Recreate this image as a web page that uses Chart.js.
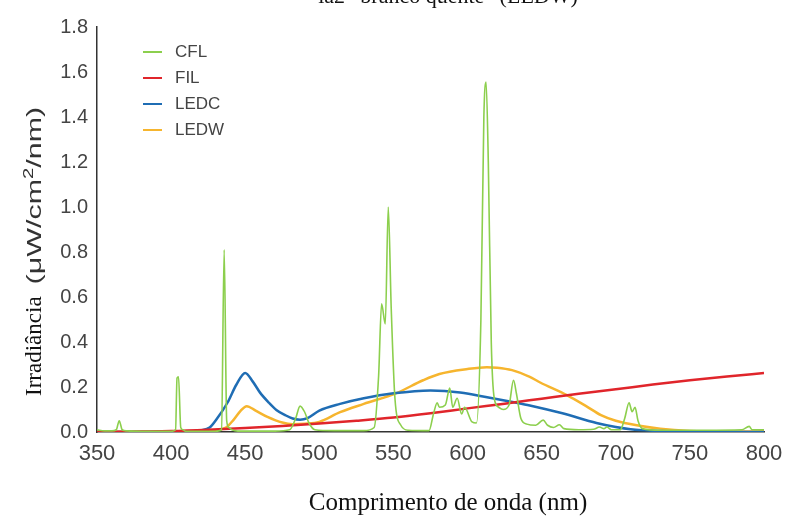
<!DOCTYPE html>
<html>
<head>
<meta charset="utf-8">
<script src="https://cdn.jsdelivr.net/npm/chart.js@4"></script>
<style>
  html, body { margin: 0; padding: 0; background: #fff; }
  #wrap { width: 786px; height: 520px; position: relative; }
</style>
</head>
<body>
<div id="wrap"><canvas id="spectra"></canvas></div>
<script>
// Spectral irradiance of the four lamps (nm / µW/cm²/nm)
const cflNm  = [350, 355, 360, 363, 365, 367, 370, 380, 400, 403, 404, 405, 406.5, 408, 410, 430, 434, 435.8, 437.5, 439, 441, 445, 470, 480, 484, 487, 490, 493, 497, 510, 530, 537, 540, 542, 544.5, 546.5, 548.5, 551, 555, 560, 574, 577, 579.5, 581, 585, 588, 590, 593, 596, 598, 603, 606, 609, 611, 612.5, 614, 616, 618, 621, 624, 628, 631, 633, 636, 640, 646, 651, 654, 658, 662, 665, 675, 685, 689, 692, 694, 697, 703, 706, 709, 711, 713, 715, 718, 730, 760, 785, 790, 792, 800];
const cflVal = [0.01, 0.005, 0.005, 0.01, 0.05, 0.01, 0.005, 0.003, 0.003, 0.01, 0.24, 0.245, 0.02, 0.01, 0.003, 0.003, 0.01, 0.81, 0.05, 0.02, 0.01, 0.004, 0.004, 0.01, 0.06, 0.115, 0.09, 0.04, 0.01, 0.006, 0.006, 0.02, 0.25, 0.57, 0.48, 1.0, 0.55, 0.15, 0.03, 0.008, 0.006, 0.08, 0.13, 0.11, 0.12, 0.195, 0.11, 0.15, 0.08, 0.11, 0.045, 0.04, 0.5, 1.4, 1.555, 1.2, 0.4, 0.15, 0.11, 0.1, 0.12, 0.23, 0.17, 0.06, 0.035, 0.03, 0.053, 0.03, 0.02, 0.032, 0.015, 0.01, 0.012, 0.022, 0.015, 0.022, 0.01, 0.01, 0.06, 0.13, 0.09, 0.11, 0.05, 0.015, 0.008, 0.008, 0.01, 0.025, 0.01, 0.01];

const filNm  = [350, 380, 400, 425, 450, 475, 500, 525, 550, 575, 600, 625, 650, 675, 700, 725, 750, 775, 800];
const filVal = [0.0, 0.002, 0.004, 0.01, 0.018, 0.027, 0.038, 0.05, 0.064, 0.083, 0.105, 0.126, 0.148, 0.17, 0.19, 0.211, 0.23, 0.247, 0.262];

const ledcNm  = [350, 410, 420, 426, 431, 438, 444, 450, 455, 460, 466, 471, 477, 482, 487, 492, 500, 514, 530, 550, 575, 595, 615, 633, 642, 664, 687, 700, 710, 730, 750, 800];
const ledcVal = [0.0, 0.002, 0.008, 0.02, 0.06, 0.13, 0.21, 0.262, 0.225, 0.175, 0.13, 0.098, 0.075, 0.06, 0.055, 0.062, 0.095, 0.125, 0.15, 0.172, 0.185, 0.176, 0.152, 0.13, 0.118, 0.083, 0.04, 0.022, 0.012, 0.004, 0.001, 0.0];

const ledwNm  = [350, 420, 430, 437, 442, 447, 451, 457, 465, 475, 482, 490, 500, 514, 530, 552, 570, 581, 600, 613, 620, 630, 642, 649, 667, 680, 690, 700, 716, 730, 750, 770, 800];
const ledwVal = [0.0, 0.002, 0.008, 0.02, 0.053, 0.095, 0.115, 0.095, 0.067, 0.042, 0.035, 0.037, 0.045, 0.088, 0.125, 0.173, 0.23, 0.258, 0.28, 0.288, 0.286, 0.275, 0.245, 0.22, 0.164, 0.115, 0.075, 0.05, 0.028, 0.015, 0.005, 0.002, 0.003];

const xTicks = [350, 400, 450, 500, 550, 600, 650, 700, 750, 800];
const yTicks = [0, 0.2, 0.4, 0.6, 0.8, 1.0, 1.2, 1.4, 1.6, 1.8];

const seriesNames  = ['CFL', 'FIL', 'LEDC', 'LEDW'];
const seriesColors = ['#8ccf4d', '#e0252b', '#1f6db4', '#f6b52e'];

function pts(xs, ys) {
    return xs.map((x, i) => ({ x: x, y: ys[i] }));
}

// legend and the mixed-font axis titles are painted by hand
const textPlugin = {
    id: 'texts',
    afterDraw(chart) {
        const c = chart.ctx;
        c.save();
        // cut-off caption at the very top
        c.fillStyle = '#111';
        c.font = '22px "Liberation Serif"';
        c.textAlign = 'center';
        c.textBaseline = 'alphabetic';
        c.fillText('ia2 \u201cbranco quente\u201d (LEDW)', 448, 3);

        // x title
        c.font = '25px "Liberation Serif"';
        c.fillText('Comprimento de onda (nm)', 448, 510);

        // y title, rotated, serif + sans parts
        c.translate(41, 396);
        c.rotate(-Math.PI / 2);
        c.textAlign = 'left';
        c.font = '23px "Liberation Serif"';
        c.fillText('Irradiância', 0, 0);
        c.translate(c.measureText('Irradiância').width + 12, 0);
        c.scale(1.45, 1);
        c.fillStyle = '#333';
        let x = 0;
        c.font = '21px "Liberation Sans"';
        c.fillText('(\u03bcW/cm', x, 0);
        x += c.measureText('(\u03bcW/cm').width;
        c.font = '14px "Liberation Sans"';
        c.fillText('2', x, -8);
        x += c.measureText('2').width;
        c.font = '21px "Liberation Sans"';
        c.fillText('/nm)', x, 0);
        c.restore();

        // legend
        c.save();
        c.font = '17px "Liberation Sans"';
        c.textBaseline = 'middle';
        seriesNames.forEach((name, i) => {
            const y = 52 + i * 26;
            c.strokeStyle = seriesColors[i];
            c.lineWidth = 2;
            c.beginPath();
            c.moveTo(143, y);
            c.lineTo(162, y);
            c.stroke();
            c.fillStyle = '#444';
            c.fillText(name, 175, y);
        });
        c.restore();
    }
};

const ctx = document.getElementById('spectra').getContext('2d');

const spectraChart = new Chart(ctx, {
    type: 'line',
    data: {
        datasets: [
            { label: 'CFL', data: pts(cflNm, cflVal), borderColor: seriesColors[0], borderWidth: 1.6 },
            { label: 'FIL', data: pts(filNm, filVal), borderColor: seriesColors[1], borderWidth: 2.5 },
            { label: 'LEDC', data: pts(ledcNm, ledcVal), borderColor: seriesColors[2], borderWidth: 2.5 },
            { label: 'LEDW', data: pts(ledwNm, ledwVal), borderColor: seriesColors[3], borderWidth: 2.5 }
        ]
    },
    options: {
        responsive: true,
        maintainAspectRatio: false,
        animation: false,
        layout: { padding: { top: 27, right: 22, left: 0, bottom: 0 } },
        elements: {
            point: { radius: 0 },
            line: { tension: 0.25, fill: false, cubicInterpolationMode: 'monotone' }
        },
        scales: {
            x: {
                type: 'linear',
                min: 350,
                max: 800,
                afterBuildTicks: (axis) => { axis.ticks = xTicks.map(v => ({ value: v })); },
                afterFit: (axis) => {
                    axis.height = 88;
                    axis.paddingLeft = 0;
                    axis.paddingRight = 0;
                },
                ticks: {
                    color: '#444',
                    font: { family: 'Liberation Sans', size: 22 },
                    padding: 9,
                    maxRotation: 0
                },
                grid: { display: false, drawTicks: false },
                border: { color: '#333', width: 1.5 }
            },
            y: {
                min: 0,
                max: 1.8,
                afterBuildTicks: (axis) => { axis.ticks = yTicks.map(v => ({ value: v })); },
                afterFit: (axis) => {
                    axis.width = 97;
                    axis.paddingTop = 0;
                    axis.paddingBottom = 0;
                },
                ticks: {
                    color: '#444',
                    font: { family: 'Liberation Sans', size: 20 },
                    padding: 9,
                    callback: (v) => v.toFixed(1)
                },
                grid: { display: false, drawTicks: false },
                border: { color: '#333', width: 1.5 }
            }
        },
        plugins: {
            legend: { display: false },
            tooltip: { enabled: false }
        }
    },
    plugins: [textPlugin]
});
</script>
</body>
</html>
